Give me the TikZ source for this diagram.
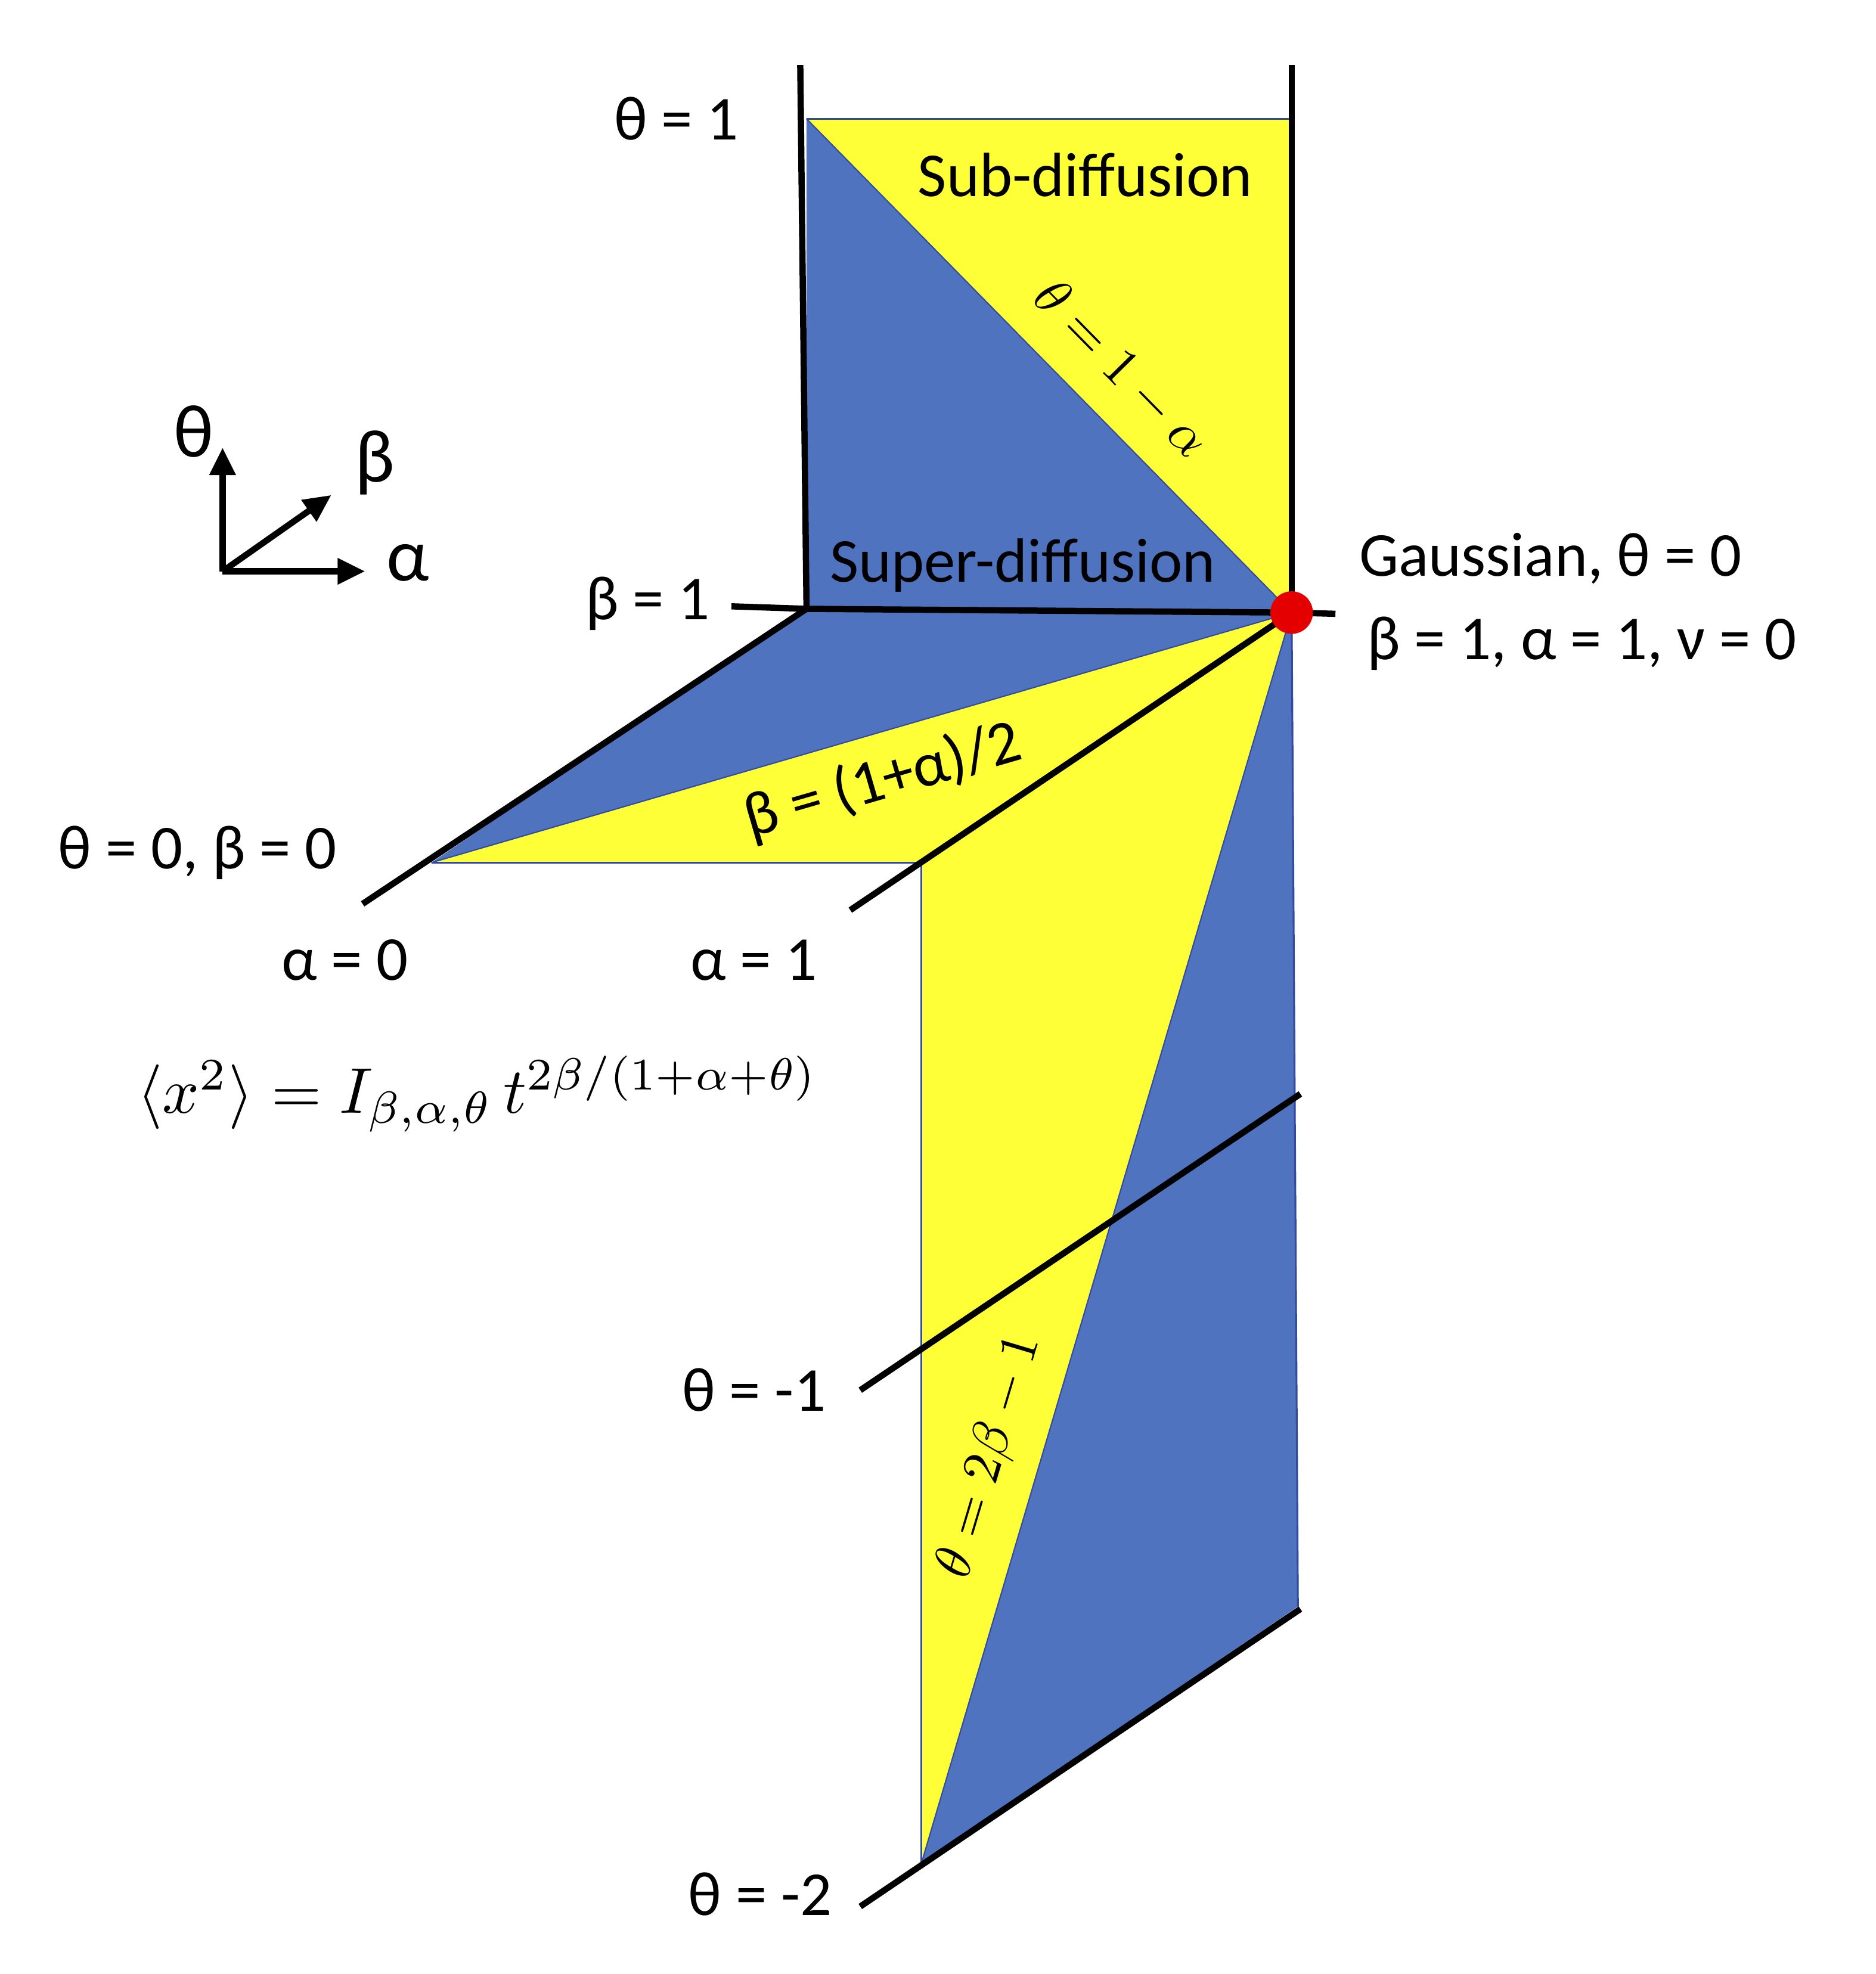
\documentclass[tikz,border=0pt]{standalone}
\usepackage{fontspec}
\setmainfont{Carlito}
\usetikzlibrary{arrows.meta}
\definecolor{bl}{RGB}{79,115,190}
\definecolor{yl}{RGB}{255,255,55}
\definecolor{edge}{RGB}{50,75,160}
\begin{document}
\begin{tikzpicture}[x=1pt,y=-1pt,
  thick line/.style={line width=5pt,black},
  thin edge/.style={draw=edge,line width=1.5pt},
  lbl/.style={font=\fontsize{50}{60}\selectfont,inner sep=0pt},
  mlbl/.style={inner sep=0pt,scale=4.3,transform shape}]
\useasboundingbox (0,0) rectangle (1500,1579);
% coordinates
\coordinate (TL) at (645,95);
\coordinate (TR) at (1031,95);
\coordinate (ML) at (645,487);
\coordinate (G) at (1033,490);
\coordinate (A0) at (345,690);
\coordinate (A1) at (737,690);
\coordinate (BR) at (1038,1285);
\coordinate (BL) at (737,1490);
% top plane
\fill[yl] (TL) -- (TR) -- (G) -- cycle;
\fill[bl] (TL) -- (ML) -- (G) -- cycle;
\draw[thin edge] (TL) -- (TR);
\draw[edge,line width=1pt] (TL) -- (G);
% horizontal plane
\fill[bl] (ML) -- (G) -- (A0) -- cycle;
\fill[yl] (A0) -- (G) -- (A1) -- cycle;
\draw[thin edge] (A0) -- (A1);
\draw[edge,line width=1pt] (A0) -- (G);
% lower vertical plane
\fill[yl] (A1) -- (G) -- (BL) -- cycle;
\fill[bl] (G) -- (BR) -- (BL) -- cycle;
\draw[thin edge] (A1) -- (BL);
\draw[thin edge] (G) -- (BR);
\draw[edge,line width=1pt] (G) -- (BL);
% thick lines
\draw[thick line] (640,52) -- (ML);
\draw[thick line] (1033,52) -- (G);
\draw[thick line] (585,485) -- (ML) -- (G) -- (1068,491);
\draw[thick line] (ML) -- (290,723);
\draw[thick line] (G) -- (680,728);
\draw[thick line] (688,1112) -- (1040,875);
\draw[thick line] (688,1525) -- (1040,1287);
\fill[red!90!black] (G) circle (17);
% axes icon
\coordinate (O) at (178,457);
\draw[line width=5pt,-{Triangle[length=22pt,width=20pt]}] (O) -- (178,358);
\draw[line width=5pt,-{Triangle[length=22pt,width=20pt]}] (O) -- (292,457);
\draw[line width=5pt,-{Triangle[length=22pt,width=20pt]}] (O) -- (265,396);
\node[lbl,font=\fontsize{60}{70}\selectfont] (lt) at (155,345) {θ};
\node[lbl,font=\fontsize{60}{70}\selectfont] (lb) at (300,370) {β};
\node[lbl,font=\fontsize{60}{70}\selectfont] (la) at (326,450) {α};
% labels
\node[lbl] (t1) at (541,95) {θ = 1};
\node[lbl] (sub) at (868,140) {Sub-diffusion};
\node[mlbl,rotate=-45.5] (l1) at (897,295) {$\theta = 1-\alpha$};
\node[lbl] (sup) at (818,452) {Super-diffusion};
\node[lbl] (b1) at (518,483) {β = 1};
\node[lbl] (gau) at (1240,447) {Gaussian, θ = 0};
\node[lbl] (gau2) at (1265,515) {β = 1, α = 1, ν = 0};
\node[lbl] (t0) at (158,682) {θ = 0, β = 0};
\node[lbl] (a0) at (276,768) {α = 0};
\node[lbl] (a1) at (603,768) {α = 1};
\node[lbl,rotate=16.2] (l2) at (706,625) {β = (1+α)/2};
\node[lbl] (tm1) at (603,1112) {θ = -1};
\node[lbl] (tm2) at (608,1515) {θ = -2};
\node[mlbl,rotate=73.4] (l3) at (792,1165) {$\theta = 2\beta-1$};
\node[mlbl,scale=1.2] (form) at (382,875) {$\langle x^2\rangle = I_{\beta,\alpha,\theta}\,t^{2\beta/(1+\alpha+\theta)}$};
\end{tikzpicture}
\end{document}
